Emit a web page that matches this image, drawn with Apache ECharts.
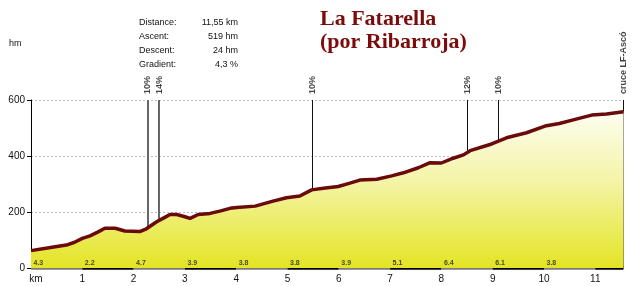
<!DOCTYPE html>
<html><head><meta charset="utf-8">
<script src="https://cdn.jsdelivr.net/npm/echarts@6/dist/echarts.min.js"></script>
<style>html,body{margin:0;padding:0;background:#fff}#c{width:640px;height:286px}</style>
</head><body><div id="c"></div>
<script>
// Profile: distance (km) and elevation (m)
var profileKm = [0,0.35,0.69,0.85,1.0,1.15,1.30,1.44,1.64,1.83,2.12,2.25,2.45,2.60,2.71,2.84,3.0,3.10,3.26,3.49,3.68,3.88,4.01,4.37,4.7,4.98,5.24,5.47,5.70,5.99,6.20,6.41,6.74,7.03,7.26,7.55,7.78,8.0,8.23,8.43,8.56,8.98,9.27,9.66,10.02,10.30,10.57,10.93,11.22,11.55];
var profileElev = [62,72,82,92,106,115,128,142,142,132,130,140,165,180,191,191,183,177,191,195,203,213,216,221,238,251,257,279,285,291,302,314,317,329,340,358,376,375,392,404,419,443,465,483,507,516,529,546,550,558];
// Per-km gradient labels
var segStartKm = [0,1,2,3,4,5,6,7,8,9,10];
var segGradient = ['4.3','2.2','4.7','3.9','3.8','3.8','3.9','5.1','6.4','6.1','3.8'];
// Annotated points
var annotKm = [2.27,2.50,5.48,8.51,9.11,11.55];
var annotText = ['10%','14%','10%','12%','10%','cruce LF-Ascó'];
// Km markers
var kmMarks = [1,2,3,4,5,6,7,8,9,10,11,11.55];
var totalKm = 11.55;
var yTicks = [0,200,400,600];
// Stats
var statLabels = ['Distance:','Ascent:','Descent:','Gradient:'];
var statValues = ['11,55 km','519 hm','24 hm','4,3 %'];
var titleLines = ['La Fatarella','(por Ribarroja)'];

function elevAt(x){
  for(var i=0;i<profileKm.length-1;i++){
    if(x>=profileKm[i] && x<=profileKm[i+1]){
      var t=(x-profileKm[i])/(profileKm[i+1]-profileKm[i]);
      return profileElev[i]+t*(profileElev[i+1]-profileElev[i]);
    }
  }
  return profileElev[profileElev.length-1];
}

var profile = profileKm.map(function(k,i){return [k,profileElev[i]];});

var markData = [];
kmMarks.forEach(function(k){
  markData.push([{coord:[k,0],lineStyle:{color:k===totalKm?'#555':'#c4c4c4',width:1,type:'solid'}},{coord:[k,elevAt(k)]}]);
});
annotKm.forEach(function(k,i){
  markData.push([{coord:[k,yTicks[yTicks.length-1]],lineStyle:{color:i<2?'#666':'#111',width:i<2?2:1,type:'solid'}},{coord:[k,elevAt(k)]}]);
});
var barData = [];
for(var s=0;s<Math.ceil(totalKm);s++){
  var e=Math.min(s+1,totalKm);
  barData.push([{coord:[s,0],lineStyle:{color:s%2===0?'#7a7a7a':'#000',width:s%2===0?2.5:3.5,type:'solid'}},{coord:[e,0]}]);
}

var FONT='"Liberation Sans", Arial, sans-serif';
var graphics = [];
statLabels.forEach(function(t,i){
  graphics.push({type:'text',left:139,top:18.5+i*13.8,style:{text:t,font:'9px '+FONT,fill:'#111'}});
  graphics.push({type:'text',right:640-238,top:18.5+i*13.8,style:{text:statValues[i],font:'9px '+FONT,fill:'#111',textAlign:'right'}});
});
titleLines.forEach(function(t,i){
  graphics.push({type:'text',left:320,top:8+i*23,style:{text:t,font:'bold 22px "Liberation Serif", "Times New Roman", serif',fill:'#7a0c0c'}});
});
graphics.push({type:'text',left:9,top:39,style:{text:'hm',font:'9px '+FONT,fill:'#111'}});

var chart = echarts.init(document.getElementById('c'),null,{renderer:'canvas'});
chart.setOption({
  animation:false,
  backgroundColor:'#fff',
  grid:{left:31,right:16.5,top:100,bottom:18,containLabel:false},
  graphic:graphics,
  xAxis:{type:'value',min:0,max:totalKm,interval:1,
    axisLine:{show:false},axisTick:{show:false},splitLine:{show:false},
    axisLabel:{showMaxLabel:false,margin:6,fontSize:10,color:'#111',fontFamily:FONT,
      formatter:function(v){return v===0?'{km|km}':String(v);},
      rich:{km:{padding:[0,0,0,10],fontSize:10,color:'#111'}}}},
  yAxis:{type:'value',min:0,max:600,interval:200,
    axisLine:{show:true,lineStyle:{color:'#000',width:1}},
    axisTick:{show:true,length:4,lineStyle:{color:'#000'}},
    splitLine:{show:true,lineStyle:{color:'#bdbdbd',type:[2,2],width:1}},
    axisLabel:{margin:6,fontSize:10,color:'#111',fontFamily:FONT}},
  series:[
    {type:'line',data:profile,symbol:'none',smooth:false,z:5,
     lineStyle:{color:'#6b0a0a',width:3.5},
     areaStyle:{opacity:1,color:new echarts.graphic.LinearGradient(0,0,0,1,[
       {offset:0,color:'#fdfdf0'},{offset:0.45,color:'#f4f4a6'},{offset:1,color:'#e4e424'}])},
     markLine:{silent:true,symbol:['none','none'],animation:false,label:{show:false},data:markData}
    },
    {type:'line',data:[],z:8,silent:true,
     markLine:{silent:true,symbol:['none','none'],animation:false,label:{show:false},data:barData}},
    {type:'scatter',data:annotKm.map(function(k,i){return [k,yTicks[yTicks.length-1],annotText[i]];}),
     symbolSize:0,z:6,silent:true,
     label:{show:true,position:'top',distance:6,rotate:90,align:'left',verticalAlign:'middle',
       formatter:function(p){return p.value[2];},fontSize:9,fontWeight:'bold',color:'#111',fontFamily:FONT}},
    {type:'scatter',data:segStartKm.map(function(k,i){return [k,0,segGradient[i]];}),
     symbolSize:1,itemStyle:{color:'rgba(0,0,0,0)'},z:6,silent:true,
     label:{show:true,position:[3,-4],align:'left',verticalAlign:'middle',
       formatter:function(p){return p.value[2];},fontSize:7,fontWeight:'bold',color:'#222',fontFamily:FONT}}
  ]
});
</script></body></html>
